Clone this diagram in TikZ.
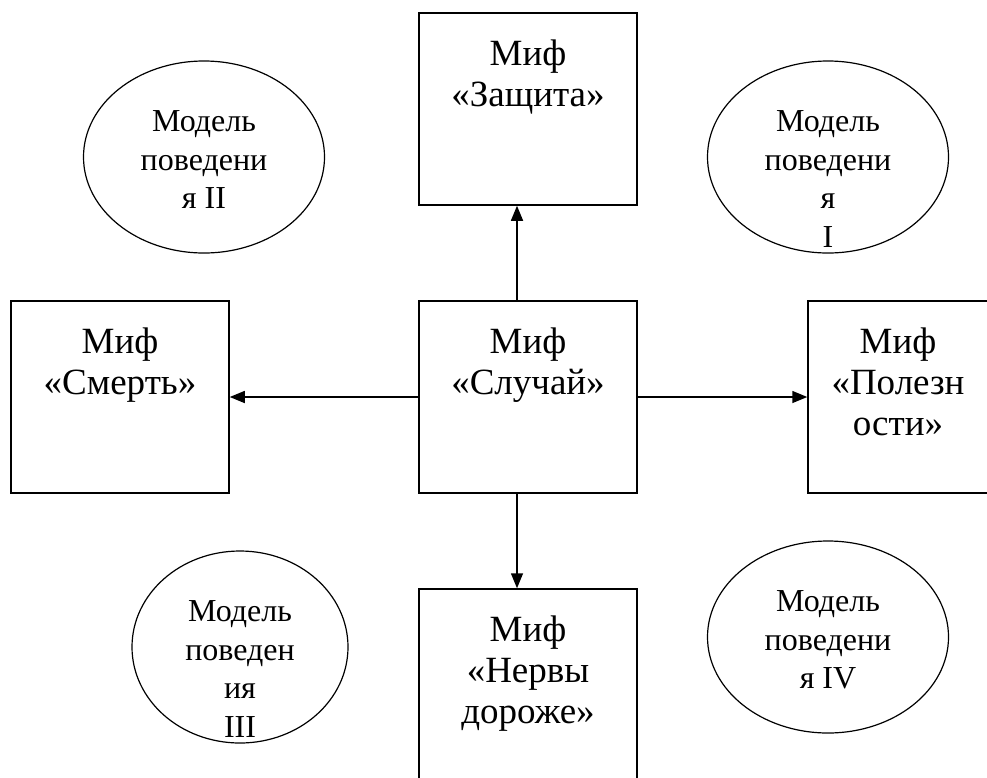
\documentclass[tikz,border=0pt]{standalone}
\usepackage{fontspec}
\setmainfont{Liberation Serif}
\usepackage{tikz}
\usetikzlibrary{
    arrows.meta,
    positioning,
    shapes.geometric
}

\begin{document}
\begin{tikzpicture}[
    x=1pt, y=-1pt,
    myth/.style={rectangle, draw=black, line width=1.5pt, minimum width=218pt, minimum height=192pt, inner sep=0pt},
    mythtext/.style={align=center, inner sep=0pt, font=\fontsize{37}{41}\selectfont},
    model/.style={ellipse, draw=black, line width=1.2pt, minimum width=241pt, minimum height=192pt, inner sep=0pt},
    modeltext/.style={align=center, inner sep=0pt, font=\fontsize{32}{38.5}\selectfont},
    link/.style={-{Triangle[length=15pt,width=12pt]}, line width=1.5pt}
]
\useasboundingbox (0,0) rectangle (987,777);

% Myth boxes
\node[myth] (zaschita) at (528, 109) {};
\node[myth] (sluchai) at (528, 397) {};
\node[myth] (smert) at (120, 397) {};
\node[myth, minimum width=180pt] (poleznosti) at (898, 397) {};
\node[myth] (nervy) at (528, 685) {};

\node[mythtext, below=27pt of zaschita.north] (zaschita-text) {Миф\\«Защита»};
\node[mythtext, below=27pt of sluchai.north] (sluchai-text) {Миф\\«Случай»};
\node[mythtext, below=27pt of smert.north] (smert-text) {Миф\\«Смерть»};
\node[mythtext, below=27pt of poleznosti.north] (poleznosti-text) {Миф\\«Полезн\\ости»};
\node[mythtext, below=27pt of nervy.north] (nervy-text) {Миф\\«Нервы\\дороже»};

% Behaviour models
\node[model] (model-1) at (828, 157) {};
\node[model] (model-2) at (204, 157) {};
\node[model, minimum width=216pt] (model-3) at (240, 647) {};
\node[model] (model-4) at (828, 637) {};

\node[modeltext, below=50pt of model-1.north] (model-1-text) {Модель\\поведени\\я\\I};
\node[modeltext, below=50pt of model-2.north] (model-2-text) {Модель\\поведени\\я II};
\node[modeltext, below=50pt of model-3.north] (model-3-text) {Модель\\поведен\\ия\\III};
\node[modeltext, below=50pt of model-4.north] (model-4-text) {Модель\\поведени\\я IV};

% Connections
\draw[link] ([xshift=-11pt]sluchai.north) -- ([xshift=-11pt]zaschita.south);
\draw[link] ([xshift=-11pt]sluchai.south) -- ([xshift=-11pt]nervy.north);
\draw[link] (sluchai.west) -- (smert.east);
\draw[link] (sluchai.east) -- (poleznosti.west);

\end{tikzpicture}
\end{document}
